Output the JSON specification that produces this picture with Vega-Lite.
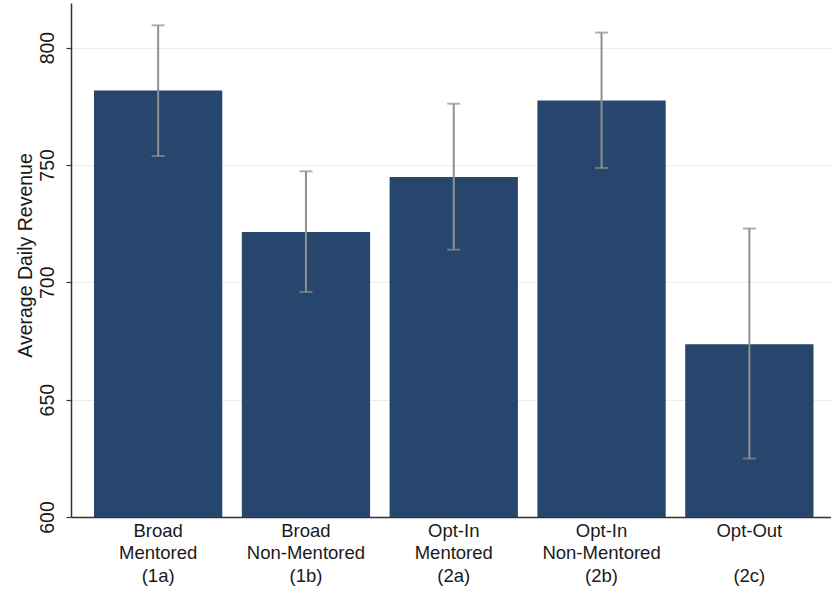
{
  "$schema": "https://vega.github.io/schema/vega-lite/v6.json",
  "width": 760,
  "height": 514,
  "autosize": {"type": "none"},
  "padding": {"left": 71, "top": 3, "right": 0, "bottom": 75},
  "background": "white",
  "config": {
    "view": {"stroke": null},
    "font": "Liberation Sans"
  },
  "data": {
    "values": [
      {"group": "Broad\nMentored\n(1a)", "mean": 781.7, "lo": 753.8, "hi": 809.5},
      {"group": "Broad\nNon-Mentored\n(1b)", "mean": 721.4, "lo": 695.9, "hi": 747.3},
      {"group": "Opt-In\nMentored\n(2a)", "mean": 744.9, "lo": 713.9, "hi": 776.1},
      {"group": "Opt-In\nNon-Mentored\n(2b)", "mean": 777.5, "lo": 748.7, "hi": 806.4},
      {"group": "Opt-Out\n\u200b\n(2c)", "mean": 673.6, "lo": 624.9, "hi": 722.9}
    ]
  },
  "encoding": {
    "x": {
      "field": "group",
      "type": "nominal",
      "sort": null,
      "scale": {"paddingInner": 0.132, "paddingOuter": 0.137, "align": 0.568, "round": false},
      "axis": {
        "title": null,
        "labelAngle": 0,
        "labelExpr": "split(datum.label, '\\n')",
        "labelFontSize": 18.5,
        "labelLineHeight": 22.5,
        "labelColor": "#1a1a1a",
        "labelPadding": 4,
        "labelBaseline": "top",
        "ticks": false,
        "domainColor": "#333333",
        "domainWidth": 1.5,
        "grid": false
      }
    }
  },
  "layer": [
    {
      "mark": {"type": "bar", "color": "#27466e"},
      "encoding": {
        "y": {
          "field": "mean",
          "type": "quantitative",
          "scale": {"domain": [600, 819], "nice": false, "zero": false},
          "axis": {
            "title": "Average Daily Revenue",
            "titleFontSize": 19.5,
            "titleFontWeight": "normal",
            "titleColor": "#1a1a1a",
            "titleAngle": -90,
            "titleAlign": "center",
            "titleBaseline": "alphabetic",
            "titleX": -40,
            "titleY": 252,
            "values": [600, 650, 700, 750, 800],
            "labelAngle": -90,
            "labelAlign": "center",
            "labelBaseline": "alphabetic",
            "labelFontSize": 19.5,
            "labelColor": "#1a1a1a",
            "labelPadding": 13,
            "tickSize": 5,
            "tickColor": "#333333",
            "tickWidth": 1.2,
            "domainColor": "#333333",
            "domainWidth": 1.5,
            "grid": true,
            "gridColor": "#ececec",
            "gridWidth": 1
          }
        },
        "y2": {"datum": 600}
      }
    },
    {
      "mark": {"type": "rule", "color": "#8f8f8f", "strokeWidth": 2},
      "encoding": {
        "y": {"field": "lo", "type": "quantitative"},
        "y2": {"field": "hi"}
      }
    },
    {
      "mark": {"type": "tick", "color": "#8f8f8f", "thickness": 2, "size": 13},
      "encoding": {
        "y": {"field": "lo", "type": "quantitative"}
      }
    },
    {
      "mark": {"type": "tick", "color": "#8f8f8f", "thickness": 2, "size": 13},
      "encoding": {
        "y": {"field": "hi", "type": "quantitative"}
      }
    }
  ]
}
